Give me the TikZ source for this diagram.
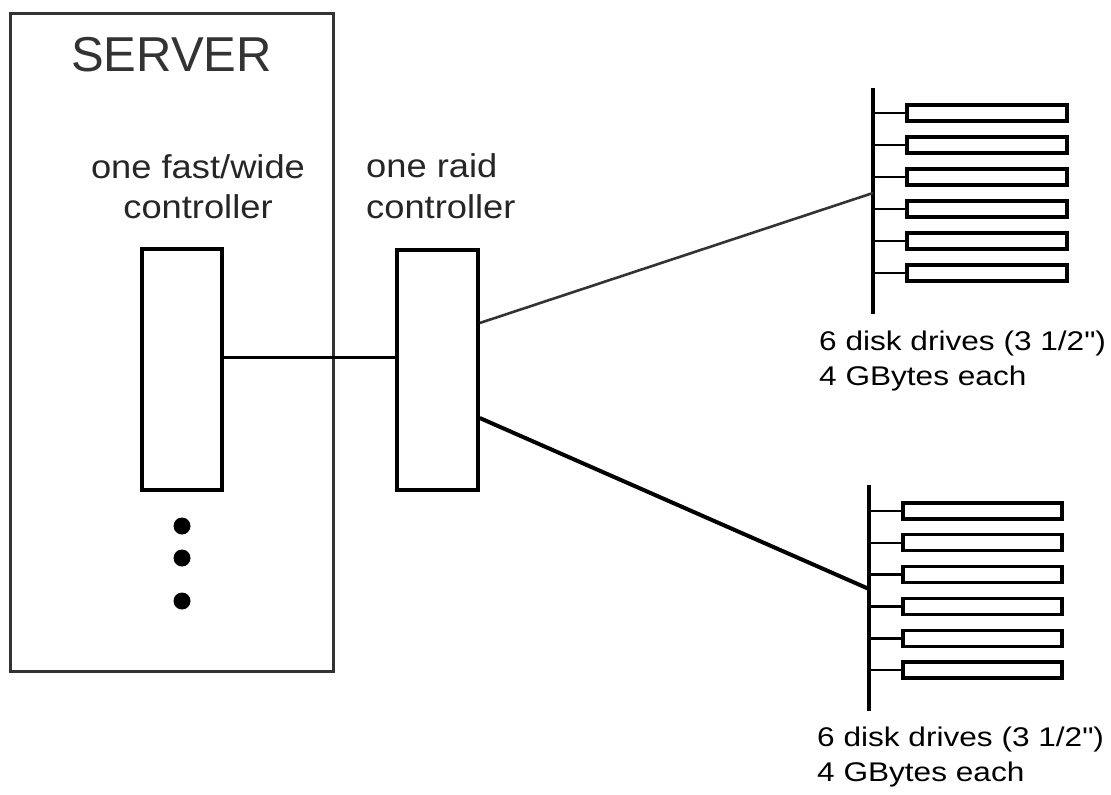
\documentclass[tikz,border=0pt]{standalone}
\usepackage{fontspec}
\setmainfont{Liberation Sans}
\newfontfamily\ctlfont[FakeStretch=1.1]{Liberation Sans}
\newfontfamily\dskfont[FakeStretch=1.17]{Liberation Sans}
\begin{document}
\begin{tikzpicture}[x=1pt,y=-1pt,
  ctlbox/.style={draw=black,line width=3.5pt,inner sep=0pt},
  drivebox/.style={draw=black,line width=3.3pt,inner sep=0pt,minimum height=16pt},
  stub/.style={draw=black,line width=2.6pt},
  busline/.style={draw=black,line width=4pt},
  dotnode/.style={circle,fill=black,inner sep=0pt,minimum size=17pt},
  ctltext/.style={inner sep=0pt,text=black!85,font=\ctlfont\fontsize{33}{40}\selectfont},
  dsktext/.style={inner sep=0pt,anchor=base west,text=black,font=\dskfont\fontsize{27}{32}\selectfont}
]
\useasboundingbox (0,0) rectangle (1111,795);
\fill[white] (0,0) rectangle (1111,795);

% server box
\node[draw=black!80,line width=3pt,inner sep=0pt,minimum width=323pt,minimum height=658pt] (server) at (171.5,342) {};
\node[inner sep=0pt,anchor=base west,text=black!80,font=\fontsize{49}{58}\selectfont] (servertxt) at (71,71) {SERVER};

% controller labels
\node[ctltext,anchor=base] (fwl1) at (198,178) {one fast/wide};
\node[ctltext,anchor=base] (fwl2) at (198,218) {controller};
\node[ctltext,anchor=base west] (rdl1) at (366,177) {one raid};
\node[ctltext,anchor=base west] (rdl2) at (366,218) {controller};

% controller boxes
\node[ctlbox,minimum width=80pt,minimum height=241pt] (fw) at (182,369.5) {};
\node[ctlbox,minimum width=81pt,minimum height=240pt] (raid) at (437.5,370) {};

% dots
\node[dotnode] (dot1) at (182,526) {};
\node[dotnode] (dot2) at (182,558) {};
\node[dotnode] (dot3) at (182,601) {};

% fw -> raid
\coordinate (hl) at (300,357);
\draw[black,line width=3pt] (fw.east |- hl) -- (raid.west |- hl);

% disk group 1
\coordinate (b1top) at (873,88);
\coordinate (b1bot) at (873,314);
\draw[busline] (b1top) -- (b1bot);
\foreach \i in {1,...,6}{
  \node[drivebox,minimum width=160pt] (da\i) at (987,{113+32*(\i-1)}) {};
  \draw[stub] (da\i.west) -- (da\i.west -| b1top);
}
% disk group 2
\coordinate (b2top) at (869,485);
\coordinate (b2bot) at (869,711);
\draw[busline] (b2top) -- (b2bot);
\foreach \i in {1,...,6}{
  \node[drivebox,minimum width=159pt] (db\i) at (982.5,{511+31.8*(\i-1)}) {};
  \draw[stub] (db\i.west) -- (db\i.west -| b2top);
}

% raid -> disk groups
\coordinate (r1) at (0,323);
\coordinate (r2) at (0,418);
\coordinate (j1) at (873,193);
\coordinate (j2) at (869,589);
\draw[black!80,line width=2.6pt] (raid.east |- r1) -- (j1);
\draw[black,line width=4pt] (raid.east |- r2) -- (j2);

% disk labels
\node[dsktext] (dal1) at (819,350) {6 disk drives (3 1/2")};
\node[dsktext] (dal2) at (819,385) {4 GBytes each};
\node[dsktext] (dbl1) at (817,746) {6 disk drives (3 1/2")};
\node[dsktext] (dbl2) at (817,781) {4 GBytes each};
\end{tikzpicture}
\end{document}
